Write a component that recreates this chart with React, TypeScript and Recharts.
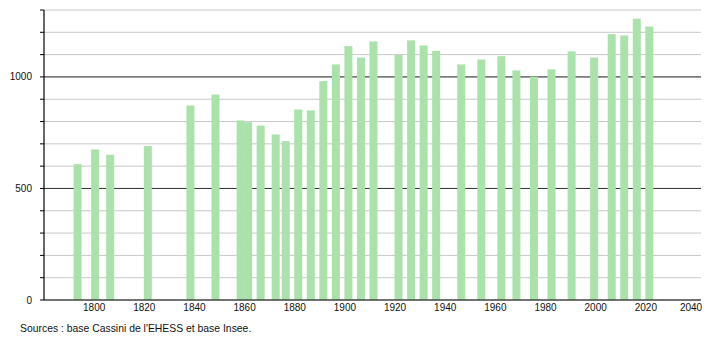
import React from "react";
import { BarChart, Bar, XAxis, YAxis, CartesianGrid } from "recharts";

const years = [
  1793, 1800, 1806, 1821, 1838, 1848, 1858, 1861, 1866, 1872, 1876, 1881, 1886, 1891, 1896, 1901,
  1906, 1911, 1921, 1926, 1931, 1936, 1946, 1954, 1962, 1968, 1975, 1982, 1990, 1999, 2006, 2011,
  2016, 2021,
];
const population = [
  609, 675, 651, 690, 872, 921, 805, 797, 782, 742, 712, 854, 850, 981, 1056, 1138,
  1087, 1159, 1098, 1164, 1141, 1117, 1056, 1078, 1093, 1029, 1001, 1034, 1114, 1087, 1192, 1186,
  1261, 1226,
];
const xTicks = [1800, 1820, 1840, 1860, 1880, 1900, 1920, 1940, 1960, 1980, 2000, 2020, 2040];
const yTicks = [0, 100, 200, 300, 400, 500, 600, 700, 800, 900, 1000, 1100, 1200, 1300];
const yLabelled = [0, 500, 1000];
const majorLines = [500, 1000];
const sourceText = "Sources : base Cassini de l'EHESS et base Insee.";

const data = years.map((y, i) => ({ year: y, pop: population[i] }));

const FONT = "'Liberation Sans', Arial, sans-serif";
const BAR_COLOR = "#abe1ab";

const BarShape = (props: any) => {
  const { x, y, width, height } = props;
  if (height == null || isNaN(height)) return null;
  const cx = x + width / 2 + 1;
  return <rect x={cx - 4} y={y} width={8} height={height} fill={BAR_COLOR} />;
};

const XTick = (props: any) => {
  const { x, y, payload } = props;
  let tx = x;
  const half = 11;
  if (tx + half > 702) tx = 702 - half;
  return (
    <text x={tx} y={y} dy="0.71em" textAnchor="middle" fontSize={10} fontFamily={FONT} fill="#111">
      {payload.value}
    </text>
  );
};

export default function App() {
  return (
    <div style={{ position: "absolute", left: 0, top: 0, width: 710, height: 340, background: "#fff" }}>
      <BarChart
        width={710}
        height={340}
        data={data}
        margin={{ top: 10, right: 9, left: 0, bottom: 10 }}
      >
        <CartesianGrid vertical={false} stroke="#c8c8c8" strokeWidth={1} />
        <CartesianGrid vertical={false} horizontalValues={majorLines} stroke="#333" strokeWidth={1} />
        <XAxis
          dataKey="year"
          type="number"
          domain={[1780, 2042]}
          ticks={xTicks}
          allowDataOverflow
          tickLine={false}
          tickSize={2}
          tickMargin={2}
          axisLine={{ stroke: "#000", strokeWidth: 1.2 }}
          tick={<XTick />}
          height={30}
          interval={0}
        />
        <YAxis
          type="number"
          domain={[0, 1300]}
          ticks={yTicks}
          interval={0}
          width={44}
          tickSize={4}
          tickMargin={8}
          tickLine={{ stroke: "#000" }}
          axisLine={{ stroke: "#000", strokeWidth: 1.2 }}
          tickFormatter={(v: number) => (yLabelled.includes(v) ? String(v) : "")}
          tick={{ fontSize: 10, fontFamily: FONT, fill: "#111" }}
        />
        <Bar dataKey="pop" fill={BAR_COLOR} isAnimationActive={false} shape={<BarShape />} />
      </BarChart>
      <div
        style={{
          position: "absolute",
          left: 20,
          top: 323,
          fontFamily: FONT,
          fontSize: 10.4,
          color: "#111",
          whiteSpace: "nowrap",
          lineHeight: "12px",
        }}
      >
        {sourceText}
      </div>
    </div>
  );
}
